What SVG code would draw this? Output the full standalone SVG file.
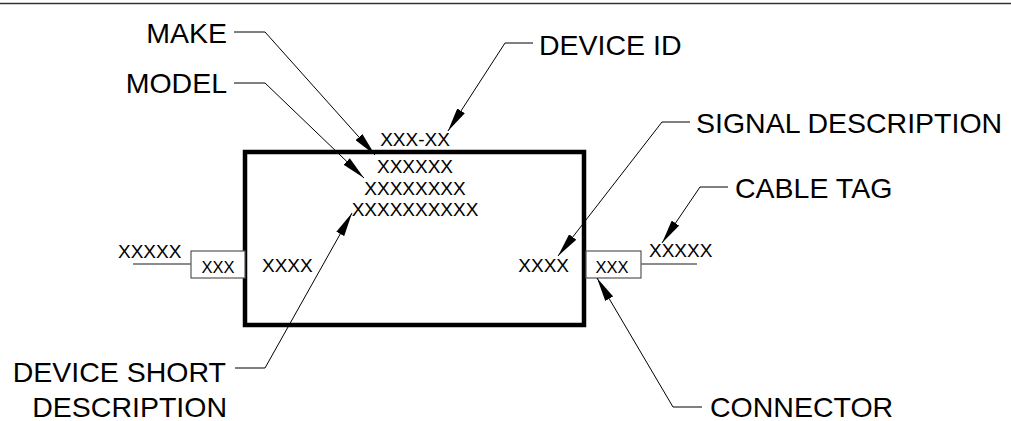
<svg xmlns="http://www.w3.org/2000/svg" width="1011" height="421" viewBox="0 0 1011 421">
<style>
.lbl{font-family:"Liberation Sans",Arial,sans-serif;font-size:28.5px;fill:#000}
.x{font-family:"Liberation Sans",Arial,sans-serif;font-size:19px;fill:#000}
.xs{font-family:"Liberation Sans",Arial,sans-serif;font-size:16.5px;fill:#000}
.lead{fill:none;stroke:#000;stroke-width:1;marker-end:url(#ah)}
.conn{fill:#fff;stroke:#555;stroke-width:1.2}
.wire{stroke:#666;stroke-width:1.6}
</style>
<defs>
<marker id="ah" markerUnits="userSpaceOnUse" markerWidth="25" markerHeight="9" refX="24" refY="4.5" orient="auto">
<path d="M0,0 L24,4.5 L0,9 Z" fill="#000"/>
</marker>
</defs>
<rect width="1011" height="421" fill="#fff"/>
<line x1="0" y1="3.5" x2="1011" y2="3.5" stroke="#333" stroke-width="1.5"/>

<g id="device">
<rect x="245" y="152" width="339" height="173" fill="none" stroke="#000" stroke-width="4.5"/>
<text class="x" x="415" y="146" text-anchor="middle">XXX-XX</text>
<text class="x" x="415" y="173" text-anchor="middle">XXXXXX</text>
<text class="x" x="415" y="195" text-anchor="middle">XXXXXXXX</text>
<text class="x" x="415" y="216" text-anchor="middle">XXXXXXXXXX</text>
<text class="x" x="262" y="272">XXXX</text>
<text class="x" x="569" y="272" text-anchor="end">XXXX</text>
</g>

<g id="connector-left">
<rect class="conn" x="191" y="251" width="54" height="27"/>
<text class="xs" x="218" y="273" text-anchor="middle">XXX</text>
<line class="wire" x1="133" y1="264" x2="191" y2="264"/>
<text class="x" x="118" y="258">XXXXX</text>
</g>

<g id="connector-right">
<rect class="conn" x="586" y="251" width="55" height="27"/>
<text class="xs" x="612" y="273" text-anchor="middle">XXX</text>
<line class="wire" x1="641" y1="264" x2="697" y2="264"/>
<text class="x" x="649" y="257">XXXXX</text>
</g>

<g id="label-make"><text class="lbl" x="227" y="43" text-anchor="end">MAKE</text></g>
<g id="label-model"><text class="lbl" x="227" y="93" text-anchor="end">MODEL</text></g>
<g id="label-device-id"><text class="lbl" x="539" y="55">DEVICE ID</text></g>
<g id="label-signal"><text class="lbl" x="696" y="133">SIGNAL DESCRIPTION</text></g>
<g id="label-cable"><text class="lbl" x="735" y="198">CABLE TAG</text></g>
<g id="label-short"><text class="lbl" x="226" y="382" text-anchor="end">DEVICE SHORT</text><text class="lbl" x="227" y="417" text-anchor="end">DESCRIPTION</text></g>
<g id="label-connector"><text class="lbl" x="710" y="417">CONNECTOR</text></g>

<g id="connectors">
<polyline class="lead" points="234,32 265,32 375,155"/>
<polyline class="lead" points="234,83 265,83 364,178"/>
<polyline class="lead" points="533,43 505,43 448,131"/>
<polyline class="lead" points="690,122 662,122 558,256"/>
<polyline class="lead" points="728,187 700,187 662,243"/>
<polyline class="lead" points="235,368 265,368 352,213"/>
<polyline class="lead" points="702,407 673,407 597,278"/>
</g>
</svg>
